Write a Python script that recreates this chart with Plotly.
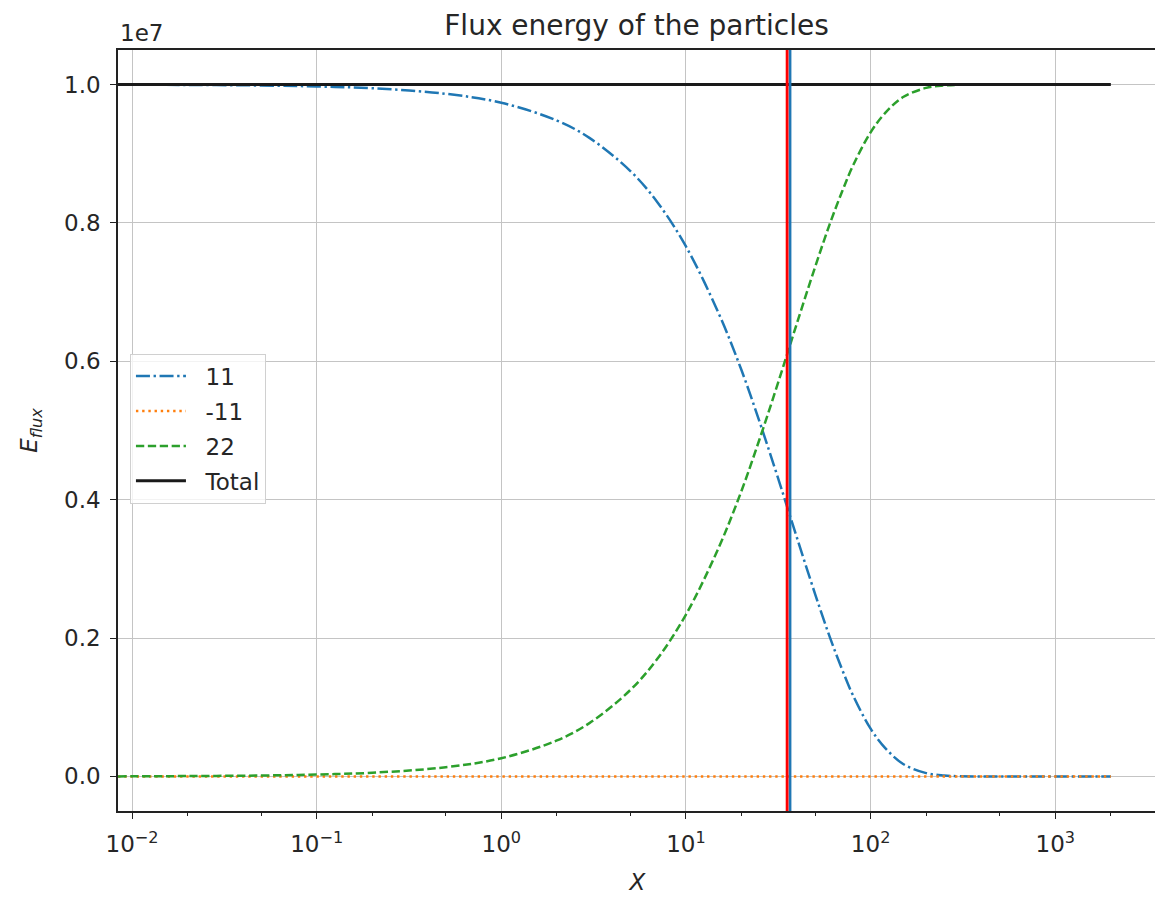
import plotly.graph_objects as go

# ---- data (energies in units of 1e7) ----
x_vals = [0.0084, 0.02, 0.05, 0.1, 0.2, 0.5, 1, 2, 3, 5, 7, 10, 15, 20, 25, 30, 35, 40,
          50, 60, 70, 80, 100, 120, 150, 200, 250, 300, 500, 1000, 2000]
e_11 = [1.0, 0.9995, 0.9987, 0.9973, 0.9947, 0.9867, 0.9737, 0.948, 0.923, 0.875, 0.830,
        0.766, 0.670, 0.587, 0.513, 0.449, 0.393, 0.344, 0.264, 0.202, 0.155, 0.118,
        0.069, 0.041, 0.018, 0.0048, 0.0013, 0.0003, 0.0, 0.0, 0.0]
e_m11 = [0.0] * 31
e_22 = [0.0, 0.0005, 0.0013, 0.0027, 0.0053, 0.0133, 0.0263, 0.052, 0.077, 0.125, 0.170,
        0.234, 0.330, 0.413, 0.487, 0.551, 0.607, 0.656, 0.736, 0.798, 0.845, 0.882,
        0.931, 0.959, 0.982, 0.9952, 0.9987, 0.9997, 1.0, 1.0, 1.0]
e_total = [1.0] * 31
vline_red = 35.3
vline_blue = 36.6
scale = 1e7
y_ticks = [0.0, 0.2, 0.4, 0.6, 0.8, 1.0]
y_tick_text = ["0.0", "0.2", "0.4", "0.6", "0.8", "1.0"]
x_ticks = [0.01, 0.1, 1, 10, 100, 1000]
x_tick_text = ["10<sup>\u22122</sup>", "10<sup>\u22121</sup>", "10<sup>0</sup>",
               "10<sup>1</sup>", "10<sup>2</sup>", "10<sup>3</sup>"]

y_range = [-0.05, 1.05]
x_range_log = [-2.076, 3.551]

FONT = "DejaVu Sans"
TXT = "#262626"
fig = go.Figure()

def sc(v):
    return [a * scale for a in v]

NB = "\u00a0\u00a0"
fig.add_trace(go.Scatter(x=x_vals, y=sc(e_11), mode="lines", name=NB + "11",
                         line=dict(color="#1f77b4", width=2.5, dash="14px,3.6px,2.4px,3.6px", shape="spline"),
                         legendgroup="a"))
fig.add_trace(go.Scatter(x=x_vals, y=sc(e_m11), mode="lines", name=NB + "-11",
                         line=dict(color="#ff7f0e", width=2.5, dash="2.4px,3.8px"),
                         legendgroup="b"))
fig.add_trace(go.Scatter(x=x_vals, y=sc(e_22), mode="lines", name=NB + "22",
                         line=dict(color="#2ca02c", width=2.5, dash="8.3px,3.6px", shape="spline"),
                         legendgroup="c"))
fig.add_trace(go.Scatter(x=x_vals, y=sc(e_total), mode="lines", name=NB + "Total",
                         line=dict(color="#1a1a1a", width=3),
                         legendgroup="d"))
fig.add_trace(go.Scatter(x=[vline_blue, vline_blue], y=[y_range[0] * scale, y_range[1] * scale],
                         mode="lines", line=dict(color="#1f77b4", width=2.8), showlegend=False))
fig.add_trace(go.Scatter(x=[vline_red, vline_red], y=[y_range[0] * scale, y_range[1] * scale],
                         mode="lines", line=dict(color="#ff0000", width=2.8), showlegend=False))

W, H = 1155, 892
fig.update_layout(
    width=W, height=H,
    paper_bgcolor="white", plot_bgcolor="white",
    margin=dict(l=110, r=4, t=42, b=89),
    font=dict(family=FONT, size=23, color=TXT),
    title=dict(text="Flux energy of the particles", x=628.5 / W, xanchor="center",
               y=1 - 17 / H, yanchor="middle", font=dict(family=FONT, size=28, color=TXT)),
    showlegend=True,
    legend=dict(x=0.0115, y=0.601, xanchor="left", yanchor="top",
                bgcolor="rgba(255,255,255,0.8)", bordercolor="#d0d0d0", borderwidth=1,
                font=dict(family=FONT, size=23, color=TXT),
                traceorder="grouped", tracegroupgap=2, itemwidth=50),
)
fig.update_xaxes(type="log", range=x_range_log, tickvals=x_ticks, ticktext=x_tick_text,
                 showgrid=True, gridcolor="#c4c4c4", gridwidth=1.2,
                 showline=True, linecolor="#222222", linewidth=1.5, mirror=True,
                 ticks="outside", ticklen=6, tickwidth=1.3, tickcolor="#222222",
                 ticklabelstandoff=6,
                 minor=dict(ticks="outside", ticklen=3.5, tickwidth=1, tickcolor="#222222", showgrid=False),
                 zeroline=False,
                 title=dict(text="<i>X</i>", font=dict(family=FONT, size=23), standoff=18))
fig.update_yaxes(range=[y_range[0] * scale, y_range[1] * scale],
                 tickvals=[v * scale for v in y_ticks], ticktext=y_tick_text,
                 showgrid=True, gridcolor="#c4c4c4", gridwidth=1.2,
                 showline=True, linecolor="#222222", linewidth=1.5, mirror=True,
                 ticks="outside", ticklen=6, tickwidth=1.3, tickcolor="#222222",
                 ticklabelstandoff=5,
                 zeroline=False,
                 title=dict(text="<i>E</i><sub><i>flux</i></sub>", font=dict(family=FONT, size=23), standoff=20))
fig.add_annotation(text="1e7", xref="paper", yref="paper", x=0, y=1, xanchor="left", yanchor="bottom",
                   yshift=2, showarrow=False, font=dict(family=FONT, size=23, color=TXT))

fig.write_html("out.html")
